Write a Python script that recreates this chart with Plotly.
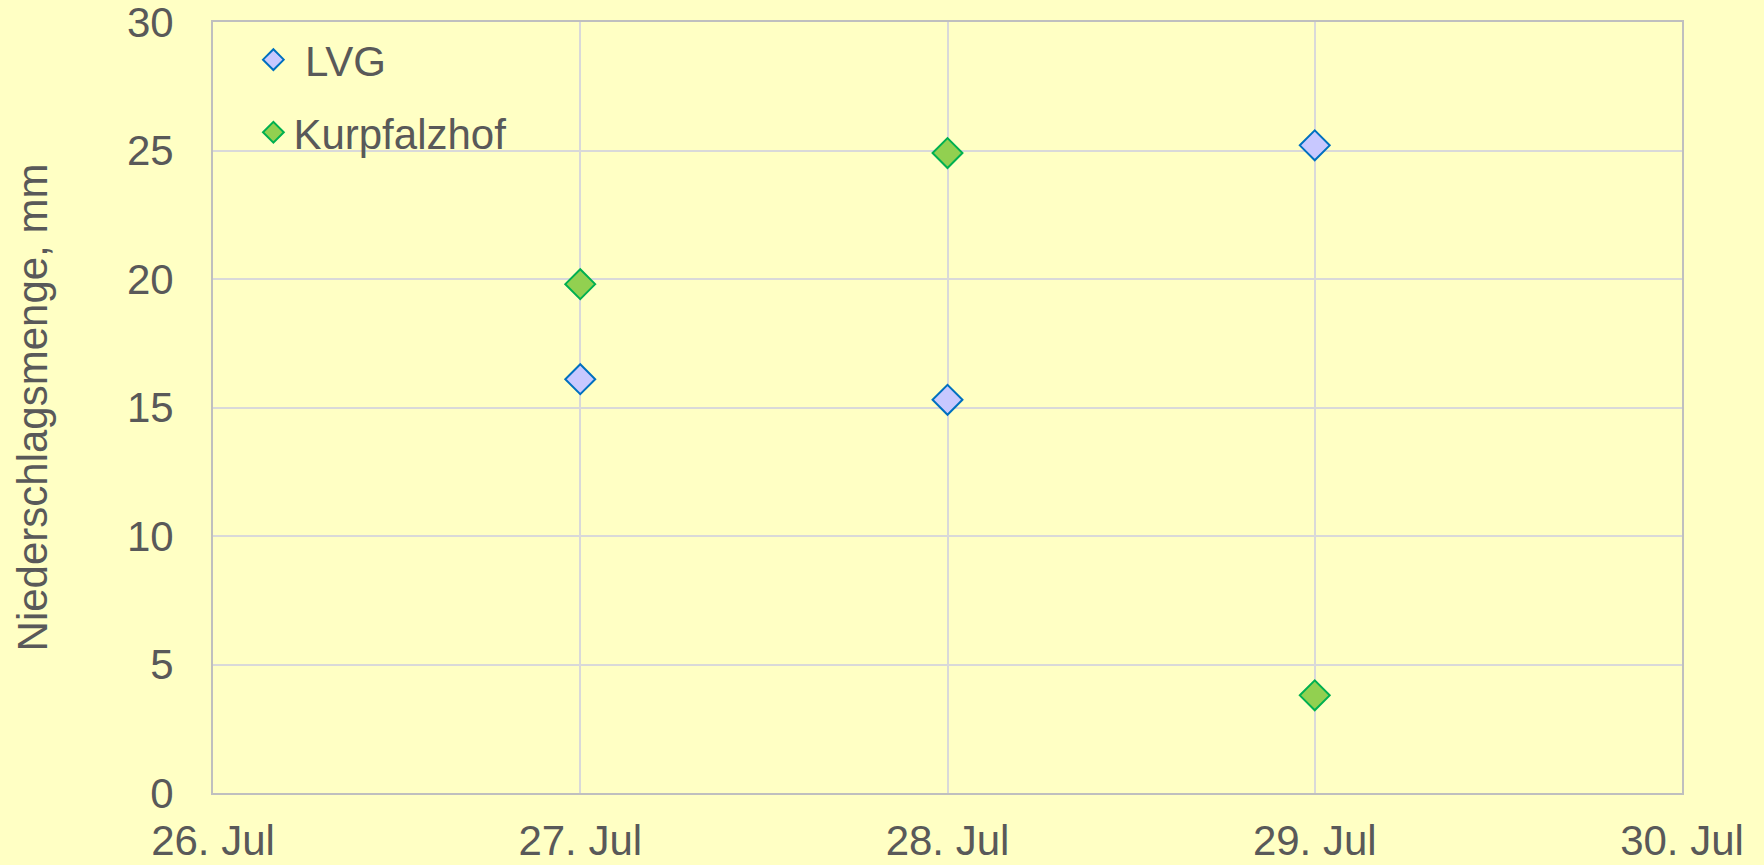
import plotly.graph_objects as go

# Daily precipitation at two stations
dates = ["2021-07-27", "2021-07-28", "2021-07-29"]
lvg = [16.1, 15.3, 25.2]
kurpfalzhof = [19.8, 24.9, 3.8]

x_range = ["2021-07-26", "2021-07-30"]
y_ticks = [0, 5, 10, 15, 20, 25, 30]

text_color = "#595959"
grid_color = "#D9D9D9"
frame_color = "#BFBFBF"
bg = "#FFFFC4"
font_family = "Liberation Sans, Arial, sans-serif"

fig = go.Figure()
fig.add_trace(go.Scatter(
    x=dates, y=lvg, mode="markers", name=" LVG", legendgroup="a",
    marker=dict(symbol="diamond", size=23, color="#C8C8FF",
                line=dict(color="#0070C0", width=2)),
))
fig.add_trace(go.Scatter(
    x=dates, y=kurpfalzhof, mode="markers", name="Kurpfalzhof", legendgroup="b",
    marker=dict(symbol="diamond", size=23, color="#92D050",
                line=dict(color="#00B050", width=2)),
))

fig.update_layout(
    width=1764, height=865,
    margin=dict(l=213, r=82, t=22, b=72),
    paper_bgcolor=bg, plot_bgcolor=bg,
    font=dict(family=font_family, size=42, color=text_color),
    showlegend=True,
    legend=dict(
        x=0.0275, y=0.995, xanchor="left", yanchor="top",
        bgcolor="rgba(0,0,0,0)", font=dict(size=42, color=text_color),
        tracegroupgap=15, itemsizing="trace",
    ),
    xaxis=dict(
        type="date", range=x_range, dtick=86400000, tick0="2021-07-26",
        tickformat="%d. %b", showgrid=True, gridcolor=grid_color, gridwidth=1.5,
        showline=True, linecolor=frame_color, linewidth=2, mirror=True,
        ticks="", zeroline=False, ticklabelstandoff=10, automargin=False,
        ticklabeloverflow="allow",
    ),
    yaxis=dict(
        range=[0, 30], tickvals=y_ticks, showgrid=True, gridcolor=grid_color,
        gridwidth=1.5, showline=True, linecolor=frame_color, linewidth=2,
        mirror=True, ticks="", zeroline=False, ticklabelstandoff=29,
        automargin=False, ticklabeloverflow="allow",
        title=dict(text="Niederschlagsmenge, mm", font=dict(size=42, color=text_color),
                   standoff=66),
    ),
)

fig.write_html("out.html")
